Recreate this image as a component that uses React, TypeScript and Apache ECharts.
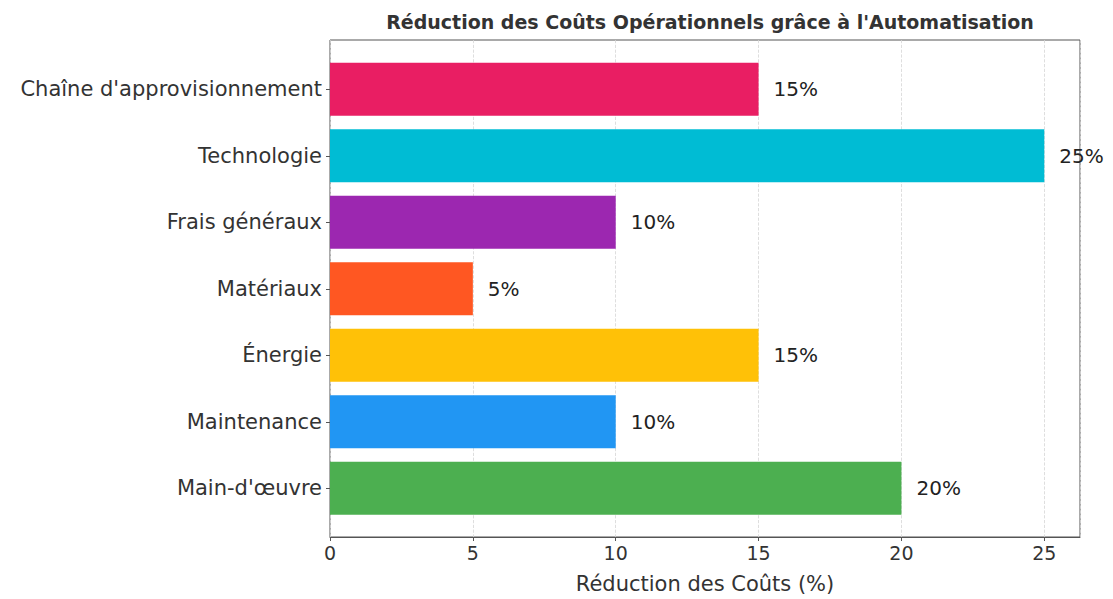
import React, { useEffect, useRef } from "react";
import * as echarts from "echarts";

const categories = [
  "Main-d'œuvre",
  "Maintenance",
  "Énergie",
  "Matériaux",
  "Frais généraux",
  "Technologie",
  "Chaîne d'approvisionnement",
];
const values = [20, 10, 15, 5, 10, 25, 15];
const colors = ["#4CAF50", "#2196F3", "#FFC107", "#FF5722", "#9C27B0", "#00BCD4", "#E91E63"];
const xTicks = [0, 5, 10, 15, 20, 25];
const xMax = 26.25;

const FONT = "DejaVu Sans";

export default function App() {
  const ref = useRef<HTMLDivElement>(null);
  useEffect(() => {
    document.body.style.margin = "0";
    const chart = echarts.init(ref.current!, null, { renderer: "svg" });
    chart.setOption({
      animation: false,
      backgroundColor: "#ffffff",
      textStyle: { fontFamily: FONT },
      title: {
        text: "Réduction des Coûts Opérationnels grâce à l'Automatisation",
        left: 705,
        textAlign: "center",
        top: 7,
        textStyle: { fontFamily: FONT, fontSize: 19, fontWeight: "bold", color: "#333" },
      },
      grid: [
        { left: 330, right: 33, top: 40, height: 497, show: true, borderColor: "#555", borderWidth: 1, backgroundColor: "transparent" },
        { left: 330, right: 33, top: 56, height: 465.5 },
      ],
      xAxis: [
        {
          gridIndex: 0,
          type: "value",
          min: 0,
          max: xMax,
          interval: 5,
          name: "Réduction des Coûts (%)",
          nameLocation: "middle",
          nameGap: 36,
          nameTextStyle: { fontSize: 21, color: "#333", fontFamily: FONT },
          axisLine: { show: true, lineStyle: { color: "#555" } },
          axisTick: { show: true, length: 4, lineStyle: { color: "#555" } },
          axisLabel: {
            fontSize: 19,
            color: "#333",
            margin: 6,
            showMaxLabel: false,
            formatter: (v: number) => (xTicks.includes(v) ? String(v) : ""),
          },
          splitLine: { show: true, lineStyle: { color: "#d5d5d5", type: "dashed", width: 0.8 } },
        },
        {
          gridIndex: 1,
          type: "value",
          min: 0,
          max: xMax,
          show: false,
          splitLine: { show: false },
        },
      ],
      yAxis: [
        { gridIndex: 0, type: "value", show: false, splitLine: { show: false } },
        {
          gridIndex: 1,
          type: "category",
          data: categories,
          axisLine: { show: false },
          axisTick: { show: true, length: 4, alignWithLabel: true, lineStyle: { color: "#555" } },
          axisLabel: { fontSize: 21, color: "#333", margin: 8, fontFamily: FONT },
        },
      ],
      series: [
        {
          type: "bar",
          xAxisIndex: 1,
          yAxisIndex: 1,
          barWidth: "80%",
          data: values.map((v, i) => ({ value: v, itemStyle: { color: colors[i] } })),
          label: {
            show: true,
            position: "right",
            distance: 15,
            formatter: "{c}%",
            fontSize: 20,
            color: "#222",
            fontFamily: FONT,
          },
        },
      ],
    });
    return () => chart.dispose();
  }, []);
  return <div ref={ref} style={{ width: 1113, height: 599 }} />;
}
